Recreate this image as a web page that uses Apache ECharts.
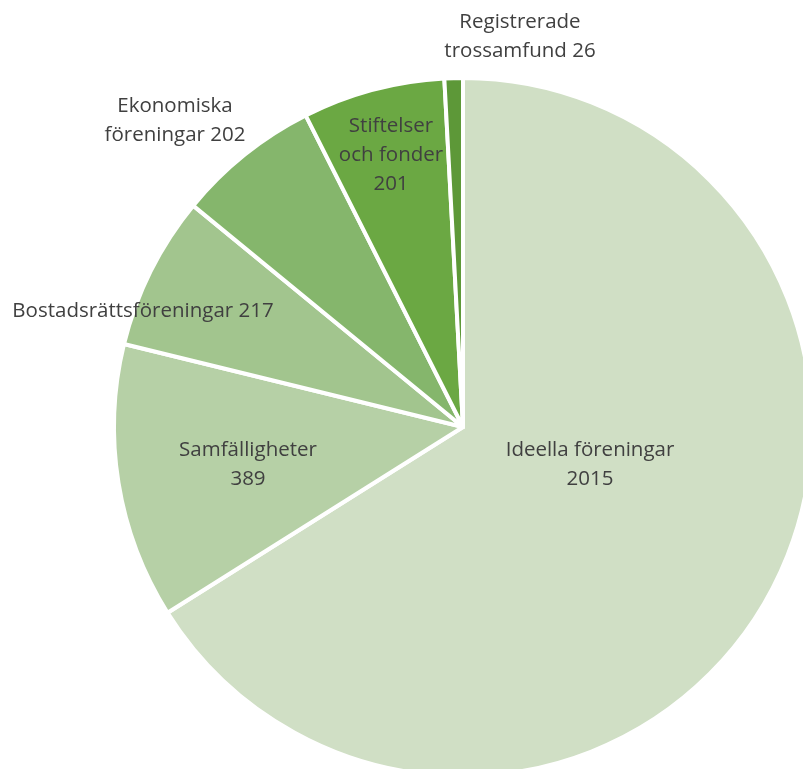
<!DOCTYPE html>
<html>
<head>
<meta charset="utf-8">
<script src="https://cdn.jsdelivr.net/npm/echarts@6/dist/echarts.min.js"></script>
<style>
  html, body { margin: 0; padding: 0; background: #fff; }
  #chart { width: 803px; height: 769px; }
</style>
</head>
<body>
<div id="chart"></div>
<script>
  var categories = ['Ideella föreningar', 'Samfälligheter', 'Bostadsrättsföreningar', 'Ekonomiska föreningar', 'Stiftelser och fonder', 'Registrerade trossamfund']
  var values = [2015, 389, 217, 202, 201, 26]
  var labelTexts = [
    'Ideella föreningar\n2015',
    'Samfälligheter\n389',
    'Bostadsrättsföreningar 217',
    'Ekonomiska\nföreningar 202',
    'Stiftelser\noch fonder\n201',
    'Registrerade\ntrossamfund 26'
  ]
  var colors = ['#d0dfc5', '#b6d0a6', '#a2c58e', '#85b66c', '#6ba843', '#5d9838']
  // where Excel put each label (centre of the text block)
  var labelPos = [[590, 465], [248, 465], [143, 311], [175, 121], [391, 155], [520, 37]]

  var chart = echarts.init(document.getElementById('chart'))
  var seriesData = []
  for (var i = 0; i < categories.length; i++) {
    seriesData.push({
      name: categories[i],
      value: values[i],
      itemStyle: { color: colors[i] },
      label: { formatter: labelTexts[i] }
    })
  }

  chart.setOption({
    animation: false,
    series: [{
      type: 'pie',
      center: [463, 427],
      radius: 349,
      startAngle: 90,
      clockwise: true,
      avoidLabelOverlap: false,
      itemStyle: { borderColor: '#fff', borderWidth: 4 },
      label: {
        show: true,
        position: 'inside',
        color: '#404040',
        fontFamily: 'Open Sans',
        fontSize: 20.5,
        lineHeight: 29,
        align: 'center'
      },
      labelLine: { show: false },
      labelLayout: function (p) {
        return { x: labelPos[p.dataIndex][0], y: labelPos[p.dataIndex][1], align: 'center', verticalAlign: 'middle' }
      },
      emphasis: { disabled: true },
      data: seriesData
    }]
  })
</script>
</body>
</html>
